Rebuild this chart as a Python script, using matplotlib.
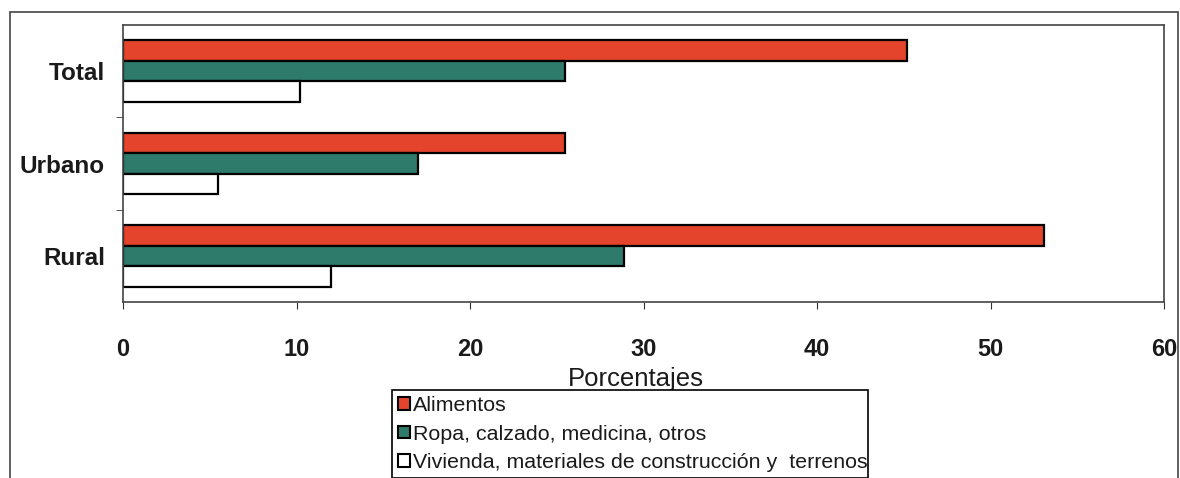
import matplotlib
matplotlib.use("Agg")
import matplotlib.pyplot as plt
from matplotlib.patches import Patch, Rectangle
import numpy as np

plt.rcParams['font.family'] = ['Liberation Sans', 'DejaVu Sans']

# data
categories = ["Rural", "Urbano", "Total"]
series_names = ["Alimentos", "Ropa, calzado, medicina, otros",
                "Vivienda, materiales de construcción y  terrenos"]
alimentos = [53.1, 25.5, 45.2]
ropa = [28.9, 17.0, 25.5]
vivienda = [12.0, 5.5, 10.2]
xticks = [0, 10, 20, 30, 40, 50, 60]

colors = ['#e3442b', '#2e7b6b', '#ffffff']

W, H = 1180, 478
fig = plt.figure(figsize=(W / 100, H / 100), dpi=100)
fig.patch.set_facecolor('white')

# outer chart-area border
fig.patches.append(Rectangle((10 / W, -0.1), (1178 - 10) / W, 1.1 - 12 / H,
                             transform=fig.transFigure, fill=False,
                             edgecolor='#444444', linewidth=1.2))

ax = fig.add_axes([123 / W, 1 - 302 / H, (1164 - 123) / W, (302 - 25) / H])

y = np.arange(len(categories))
h = 0.222
for vals, off, c in zip([alimentos, ropa, vivienda], [h, 0, -h], colors):
    ax.barh(y + off, vals, height=h, color=c, edgecolor='black', linewidth=1.6)

ax.set_xlim(0, 60)
ax.set_ylim(-0.5, 2.5)
ax.set_xticks(xticks)
ax.set_xticklabels([str(t) for t in xticks], fontsize=17, fontweight='bold',
                   color='#1a1a1a')
ax.tick_params(axis='x', direction='out', length=5, pad=21, color='#333333')

ax.set_yticks(y)
ax.set_yticklabels(categories, fontsize=17.5, fontweight='bold', color='#1a1a1a')
ax.tick_params(axis='y', which='major', length=0, pad=13)
ax.set_yticks([0.5, 1.5], minor=True)
ax.tick_params(axis='y', which='minor', direction='out', length=5, color='#333333')

for s in ax.spines.values():
    s.set_color('#444444')
    s.set_linewidth(1.2)

fig.text(636 / W, 1 - 386 / H, "Porcentajes", ha='center', va='baseline',
         fontsize=18.5, color='#1a1a1a')

handles = [Patch(facecolor=c, edgecolor='black', linewidth=1.5) for c in colors]
leg = fig.legend(handles, series_names, loc='upper left',
                 bbox_to_anchor=(392 / W, 1 - 390 / H, (868 - 392) / W, 0),
                 bbox_transform=fig.transFigure, mode='expand',
                 fontsize=15.4, handlelength=0.55, handleheight=0.55,
                 handletextpad=0.15, labelspacing=0.43, borderpad=0.3,
                 borderaxespad=0, fancybox=False, framealpha=1)
leg.get_frame().set_edgecolor('black')
leg.get_frame().set_linewidth(1.2)
for t in leg.get_texts():
    t.set_color('#1a1a1a')

fig.savefig("out.png", dpi=100)
